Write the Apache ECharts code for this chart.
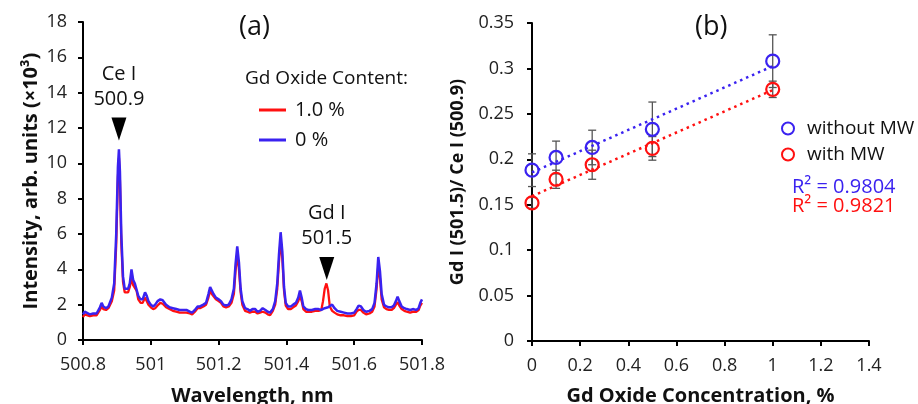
<!DOCTYPE html>
<html>
<head>
<meta charset="utf-8">
<script src="https://cdn.jsdelivr.net/npm/echarts@6/dist/echarts.min.js"></script>
<style>
  html, body { margin: 0; padding: 0; background: #fff; }
  #chart { width: 918px; height: 404px; }
</style>
</head>
<body>
<div id="chart"></div>
<script>
// panel (a): LIBS spectrum
const wavelength = [
  500.800, 500.805, 500.810, 500.820, 500.830, 500.840, 500.850, 500.855, 500.860, 500.868,
  500.875, 500.885, 500.892, 500.898, 500.903, 500.906, 500.909, 500.913, 500.918, 500.923,
  500.928, 500.933, 500.938, 500.943, 500.948, 500.953, 500.958, 500.963, 500.970, 500.976,
  500.983, 500.988, 500.993, 501.000, 501.007, 501.013, 501.020, 501.028, 501.035, 501.045,
  501.055, 501.065, 501.075, 501.085, 501.095, 501.105, 501.110, 501.115, 501.122, 501.130,
  501.138, 501.145, 501.155, 501.163, 501.170, 501.175, 501.180, 501.185, 501.192, 501.200,
  501.207, 501.214, 501.222, 501.230, 501.238, 501.245, 501.250, 501.255, 501.260, 501.265,
  501.270, 501.278, 501.285, 501.292, 501.300, 501.308, 501.315, 501.322, 501.330, 501.338,
  501.345, 501.352, 501.360, 501.367, 501.373, 501.378, 501.383, 501.388, 501.393, 501.398,
  501.405, 501.413, 501.420, 501.428, 501.435, 501.440, 501.445, 501.450, 501.458, 501.465,
  501.475, 501.485, 501.495, 501.503, 501.508, 501.513, 501.518, 501.523, 501.528, 501.535,
  501.542, 501.550, 501.560, 501.570, 501.580, 501.590, 501.600, 501.607, 501.613, 501.620,
  501.627, 501.635, 501.645, 501.653, 501.660, 501.666, 501.671, 501.676, 501.681, 501.688,
  501.695, 501.703, 501.710, 501.717, 501.723, 501.728, 501.733, 501.740, 501.748, 501.755,
  501.765, 501.775, 501.783, 501.790, 501.795, 501.800
];
// 0 % Gd oxide (blue)
const intensity0 = [
  1.45, 1.60, 1.50, 1.45, 1.50, 1.50, 1.85, 2.10, 1.90, 1.80,
  1.90, 2.40, 3.20, 6.00, 9.80, 10.80, 9.50, 6.00, 3.60, 2.90,
  2.80, 2.90, 3.20, 4.00, 3.40, 3.20, 3.10, 2.50, 2.30, 2.30,
  2.70, 2.50, 2.20, 2.00, 1.90, 2.00, 2.20, 2.30, 2.25, 2.00,
  1.85, 1.80, 1.75, 1.70, 1.70, 1.70, 1.80, 1.60, 1.55, 1.70,
  1.90, 1.90, 2.00, 2.10, 2.60, 3.00, 2.80, 2.60, 2.40, 2.30,
  2.20, 2.00, 1.95, 2.00, 2.30, 2.90, 4.30, 5.30, 4.40, 2.90,
  2.20, 1.80, 1.75, 1.65, 1.75, 1.75, 1.60, 1.65, 1.80, 1.70,
  1.60, 1.55, 1.75, 2.20, 3.20, 4.80, 6.10, 5.00, 3.00, 2.10,
  1.90, 1.90, 2.00, 2.10, 2.40, 2.80, 2.40, 1.90, 1.75, 1.70,
  1.70, 1.75, 1.75, 1.70, 1.75, 1.80, 1.85, 1.85, 1.90, 2.00,
  1.80, 1.65, 1.60, 1.55, 1.50, 1.50, 1.55, 1.75, 1.95, 1.90,
  1.70, 1.60, 1.65, 1.75, 2.10, 3.20, 4.70, 3.90, 2.60, 2.00,
  1.90, 1.85, 1.85, 1.95, 2.20, 2.45, 2.20, 1.90, 1.80, 1.75,
  1.70, 1.75, 1.70, 1.80, 2.10, 2.30
];
// 1.0 % Gd oxide (red)
const intensity1 = [
  1.30, 1.45, 1.40, 1.35, 1.40, 1.40, 1.70, 1.90, 1.75, 1.70,
  1.80, 2.20, 2.80, 5.40, 9.20, 10.30, 9.00, 5.50, 3.30, 2.70,
  2.60, 2.70, 3.00, 3.50, 3.10, 3.00, 2.80, 2.30, 2.10, 2.10,
  2.40, 2.30, 2.00, 1.85, 1.75, 1.80, 1.95, 2.10, 2.05, 1.85,
  1.75, 1.65, 1.60, 1.55, 1.55, 1.55, 1.65, 1.50, 1.45, 1.60,
  1.80, 1.80, 1.90, 2.00, 2.40, 2.80, 2.60, 2.50, 2.30, 2.20,
  2.10, 1.90, 1.85, 1.90, 2.10, 2.60, 3.90, 4.90, 4.00, 2.70,
  2.00, 1.65, 1.60, 1.55, 1.60, 1.60, 1.50, 1.55, 1.60, 1.55,
  1.45, 1.40, 1.65, 2.00, 2.90, 4.40, 5.70, 4.60, 2.80, 1.95,
  1.75, 1.75, 1.85, 1.95, 2.20, 2.50, 2.20, 1.75, 1.60, 1.60,
  1.60, 1.65, 1.65, 1.70, 2.20, 2.90, 3.20, 2.80, 1.90, 1.65,
  1.55, 1.45, 1.40, 1.40, 1.35, 1.35, 1.40, 1.60, 1.70, 1.70,
  1.55, 1.45, 1.50, 1.60, 1.90, 2.90, 4.20, 3.50, 2.30, 1.85,
  1.75, 1.70, 1.70, 1.80, 2.00, 2.15, 1.95, 1.75, 1.65, 1.60,
  1.55, 1.60, 1.60, 1.70, 1.95, 2.10
];

// panel (b): Gd I / Ce I ratio vs oxide concentration
const concentration = [0, 0.1, 0.25, 0.5, 1];
const ratioWithoutMW = [0.188, 0.202, 0.213, 0.233, 0.308];
const errWithoutMW = [0.018, 0.018, 0.019, 0.030, 0.029];
const ratioWithMW = [0.152, 0.178, 0.194, 0.212, 0.277];
const errWithMW = [0.006, 0.010, 0.016, 0.013, 0.009];

const FONT = "Open Sans";
const BLUE = "#3a22f0";
const RED = "#ff1010";

function pairs(xs, ys) {
  return xs.map((x, i) => [x, ys[i]]);
}
function errData(xs, ys, es) {
  return xs.map((x, i) => [x, ys[i] - es[i], ys[i] + es[i]]);
}
// least-squares trend line drawn over the data range
function fitLine(xs, ys) {
  const n = xs.length;
  const mx = xs.reduce((a, b) => a + b, 0) / n;
  const my = ys.reduce((a, b) => a + b, 0) / n;
  let sxy = 0, sxx = 0;
  xs.forEach((x, i) => {
    sxy += (x - mx) * (ys[i] - my);
    sxx += (x - mx) * (x - mx);
  });
  const b = sxy / sxx;
  const a = my - b * mx;
  const x0 = xs[0], x1 = xs[n - 1];
  return [[x0, a + b * x0], [x1, a + b * x1]];
}

function renderErr(params, api) {
  const x = api.value(0);
  const lo = api.coord([x, api.value(1)]);
  const hi = api.coord([x, api.value(2)]);
  const cap = 4;
  const style = { stroke: "#555", lineWidth: 1.3 };
  return {
    type: "group",
    children: [
      { type: "line", shape: { x1: lo[0], y1: lo[1], x2: hi[0], y2: hi[1] }, style },
      { type: "line", shape: { x1: lo[0] - cap, y1: lo[1], x2: lo[0] + cap, y2: lo[1] }, style },
      { type: "line", shape: { x1: hi[0] - cap, y1: hi[1], x2: hi[0] + cap, y2: hi[1] }, style },
    ],
  };
}

const axisCommon = {
  axisLine: { show: true, lineStyle: { color: "#000", width: 2 } },
  axisTick: { show: true, inside: false, length: 5, lineStyle: { color: "#000", width: 2 } },
  splitLine: { show: false },
  axisLabel: { color: "#222", fontSize: 18, fontFamily: FONT },
  nameTextStyle: { color: "#111", fontSize: 20, fontWeight: "bold", fontFamily: FONT },
};

const peakLabel = {
  show: true,
  position: "top",
  distance: 6,
  color: "#111",
  fontSize: 20,
  lineHeight: 25,
  fontFamily: FONT,
  formatter: (p) => p.name,
};

const option = {
  animation: false,
  backgroundColor: "#fff",
  textStyle: { fontFamily: FONT },
  grid: [
    { left: 83, right: 496, top: 22, bottom: 64, outerBoundsMode: "none", containLabel: false },
    { left: 532, right: 49, top: 23, bottom: 63, outerBoundsMode: "none", containLabel: false },
  ],
  xAxis: [
    {
      ...axisCommon,
      gridIndex: 0,
      type: "value",
      min: 500.8,
      max: 501.8,
      interval: 0.2,
      name: "Wavelength, nm",
      nameLocation: "middle",
      nameGap: 46,
      axisLabel: { ...axisCommon.axisLabel, margin: 16, formatter: (v) => String(+v.toFixed(1)) },
    },
    {
      ...axisCommon,
      gridIndex: 1,
      type: "value",
      min: 0,
      max: 1.4,
      interval: 0.2,
      name: "Gd Oxide Concentration, %",
      nameLocation: "middle",
      nameGap: 45,
      axisLabel: { ...axisCommon.axisLabel, margin: 16, formatter: (v) => String(+v.toFixed(1)) },
    },
  ],
  yAxis: [
    {
      ...axisCommon,
      gridIndex: 0,
      type: "value",
      min: 0,
      max: 18,
      interval: 2,
      name: "Intensity, arb. units (×10³)",
      nameLocation: "middle",
      nameGap: 42,
      axisLabel: { ...axisCommon.axisLabel, margin: 16 },
    },
    {
      ...axisCommon,
      gridIndex: 1,
      type: "value",
      min: 0,
      max: 0.35,
      interval: 0.05,
      name: "Gd I (501.5)/ Ce I (500.9)",
      nameLocation: "middle",
      nameGap: 65,
      nameTextStyle: { ...axisCommon.nameTextStyle, fontSize: 18 },
      axisLabel: { ...axisCommon.axisLabel, margin: 18, formatter: (v) => String(+v.toFixed(2)) },
    },
  ],
  legend: [
    {
      data: ["1.0 %", "0 %"],
      orient: "vertical",
      left: 254,
      top: 95,
      itemWidth: 27,
      itemHeight: 3,
      itemGap: 10,
      icon: "rect",
      textStyle: { fontSize: 20, color: "#111", fontFamily: FONT, padding: [0, 0, 0, 4] },
    },
    {
      data: ["without MW", "with MW"],
      orient: "vertical",
      left: 776,
      top: 114,
      itemWidth: 12,
      itemHeight: 12,
      itemGap: 7,
      textStyle: { fontSize: 19, color: "#111", fontFamily: FONT, padding: [0, 0, 0, 8] },
    },
  ],
  graphic: [
    { type: "text", left: 239, top: 14, style: { text: "(a)", fontSize: 27, fill: "#111", fontFamily: FONT } },
    { type: "text", left: 695, top: 14, style: { text: "(b)", fontSize: 27, fill: "#111", fontFamily: FONT } },
    { type: "text", left: 245, top: 69, style: { text: "Gd Oxide Content:", fontSize: 19, fill: "#111", fontFamily: FONT } },
    { type: "text", left: 792, top: 177, style: { text: "R² = 0.9804", fontSize: 20, fill: BLUE, fontFamily: FONT } },
    { type: "text", left: 792, top: 196, style: { text: "R² = 0.9821", fontSize: 20, fill: RED, fontFamily: FONT } },
  ],
  series: [
    {
      name: "1.0 %",
      type: "line",
      xAxisIndex: 0,
      yAxisIndex: 0,
      data: pairs(wavelength, intensity1),
      showSymbol: false,
      color: RED,
      lineStyle: { width: 2.3, color: RED },
      markPoint: {
        symbol: "triangle",
        symbolRotate: 180,
        symbolSize: [15, 23],
        itemStyle: { color: "#000" },
        label: peakLabel,
        data: [{ name: "Gd I\n501.5", coord: [501.519, 4.05] }],
      },
    },
    {
      name: "0 %",
      type: "line",
      xAxisIndex: 0,
      yAxisIndex: 0,
      data: pairs(wavelength, intensity0),
      showSymbol: false,
      color: BLUE,
      lineStyle: { width: 2.5, color: BLUE },
      markPoint: {
        symbol: "triangle",
        symbolRotate: 180,
        symbolSize: [15, 23],
        itemStyle: { color: "#000" },
        label: peakLabel,
        data: [{ name: "Ce I\n500.9", coord: [500.906, 11.95] }],
      },
    },
    {
      name: "fitWithout",
      type: "line",
      xAxisIndex: 1,
      yAxisIndex: 1,
      data: fitLine(concentration, ratioWithoutMW),
      showSymbol: false,
      lineStyle: { color: BLUE, width: 2.5, type: [2.5, 4] },
    },
    {
      name: "fitWith",
      type: "line",
      xAxisIndex: 1,
      yAxisIndex: 1,
      data: fitLine(concentration, ratioWithMW),
      showSymbol: false,
      lineStyle: { color: RED, width: 2.5, type: [2.5, 4] },
    },
    {
      name: "errWithout",
      type: "custom",
      xAxisIndex: 1,
      yAxisIndex: 1,
      renderItem: renderErr,
      data: errData(concentration, ratioWithoutMW, errWithoutMW),
      z: 3,
    },
    {
      name: "errWith",
      type: "custom",
      xAxisIndex: 1,
      yAxisIndex: 1,
      renderItem: renderErr,
      data: errData(concentration, ratioWithMW, errWithMW),
      z: 3,
    },
    {
      name: "without MW",
      type: "scatter",
      xAxisIndex: 1,
      yAxisIndex: 1,
      data: pairs(concentration, ratioWithoutMW),
      symbol: "circle",
      symbolSize: 13,
      itemStyle: { color: "rgba(0,0,0,0)", borderColor: BLUE, borderWidth: 2.2, opacity: 1 },
      z: 4,
    },
    {
      name: "with MW",
      type: "scatter",
      xAxisIndex: 1,
      yAxisIndex: 1,
      data: pairs(concentration, ratioWithMW),
      symbol: "circle",
      symbolSize: 13,
      itemStyle: { color: "rgba(0,0,0,0)", borderColor: RED, borderWidth: 2.2, opacity: 1 },
      z: 4,
    },
  ],
};

const chart = echarts.init(document.getElementById("chart"));
chart.setOption(option);
</script>
</body>
</html>
